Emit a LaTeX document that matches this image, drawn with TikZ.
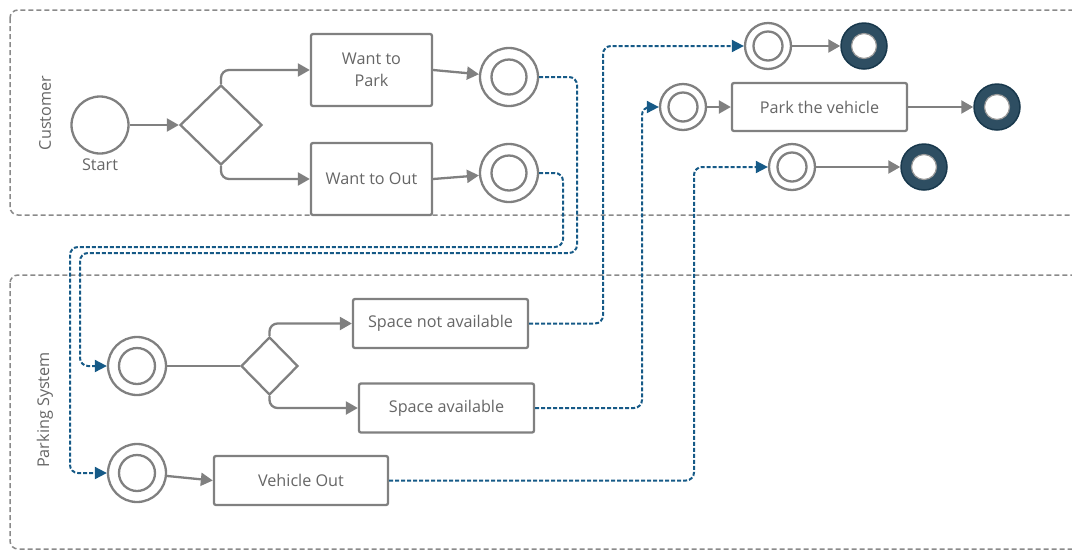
\documentclass[tikz,border=0pt]{standalone}
\usepackage{fontspec}
\setmainfont{Open Sans}
\usetikzlibrary{arrows.meta,shapes.geometric}
\definecolor{flowgray}{HTML}{808080}
\definecolor{lanegray}{HTML}{8A8A8A}
\definecolor{txtgray}{HTML}{666666}
\definecolor{msgblue}{HTML}{165A87}
\definecolor{endfill}{HTML}{2E4E62}
\definecolor{endline}{HTML}{18384C}
\tikzset{
  lane/.style={draw=lanegray, line width=1.5pt, dash pattern=on 5pt off 3pt, rounded corners=8pt},
  lanelabel/.style={rotate=90, text=txtgray, font=\fontsize{16.2}{18}\selectfont},
  task/.style={draw=flowgray, line width=2.3pt, fill=white, rounded corners=2pt,
    text=txtgray, font=\fontsize{16.2}{22}\selectfont, align=center, inner sep=0pt},
  gate/.style={diamond, draw=flowgray, line width=2.3pt, fill=white, inner sep=0pt},
  startevt/.style={circle, draw=flowgray, line width=2.3pt, fill=white, inner sep=0pt, minimum size=57pt},
  midevt/.style={circle, draw=flowgray, line width=2.3pt, fill=white, inner sep=0pt},
  endevt/.style={circle, draw=endline, line width=1.5pt, fill=endfill, inner sep=0pt, minimum size=46pt},
  inner ring/.style={draw=flowgray, line width=2.3pt},
  end core/.style={draw=flowgray!80, line width=1.2pt, fill=white},
  flow/.style={draw=flowgray, line width=2.3pt, rounded corners=8pt,
    -{Triangle[length=12pt,width=13pt]}},
  plainflow/.style={draw=flowgray, line width=2.3pt},
  msg/.style={draw=msgblue, line width=2pt, dash pattern=on 4pt off 2pt, rounded corners=8pt,
    -{Triangle[length=12pt,width=12pt]}, msgblue},
}
\begin{document}
\begin{tikzpicture}[x=1pt,y=-1pt]
\useasboundingbox (0,0) rectangle (1072,550);
\clip (0,0) rectangle (1072,550);

% swimlanes
\draw[lane] (10,10) rectangle (1090,215);
\draw[lane] (10,275) rectangle (1090,549);
\node[lanelabel] (laneC) at (45,113) {Customer};
\node[lanelabel] (laneP) at (45,410) {Parking System};

% customer lane
\node[startevt] (start) at (100,125) {};
\node[text=txtgray, font=\fontsize{16.2}{18}\selectfont] (startlbl) at (100,165) {Start};
\node[gate, minimum width=82pt, minimum height=80pt] (g1) at (221,125) {};
\node[task, minimum width=121pt, minimum height=72pt] (wp) at (371.5,70) {Want to\\Park};
\node[task, minimum width=121pt, minimum height=72pt] (wo) at (371.5,179) {Want to Out};
\node[midevt, minimum size=58pt] (c1) at (509,77) {};
\node[midevt, minimum size=58pt] (c2) at (509,173) {};
\draw[inner ring] (c1.center) circle (17.5);
\draw[inner ring] (c2.center) circle (17.5);

\node[midevt, minimum size=46pt] (a1) at (768,46) {};
\node[midevt, minimum size=46pt] (b1) at (683,107) {};
\node[midevt, minimum size=46pt] (cc1) at (792,167) {};
\draw[inner ring] (a1.center) circle (14.5);
\draw[inner ring] (b1.center) circle (14.5);
\draw[inner ring] (cc1.center) circle (14.5);
\node[task, minimum width=175pt, minimum height=48pt] (pv) at (819.5,107) {Park the vehicle};
\node[endevt] (ae) at (864,46) {};
\node[endevt] (be) at (997,107) {};
\node[endevt] (ce) at (924,167) {};
\draw[end core] (ae.center) circle (12.5);
\draw[end core] (be.center) circle (12.5);
\draw[end core] (ce.center) circle (12.5);

% parking system lane
\node[midevt, minimum size=58pt] (p1) at (137,366) {};
\node[midevt, minimum size=58pt] (p2) at (137,473) {};
\draw[inner ring] (p1.center) circle (18);
\draw[inner ring] (p2.center) circle (18);
\node[gate, minimum width=57pt, minimum height=58pt] (g2) at (269.5,366) {};
\node[task, minimum width=175pt, minimum height=49pt] (sna) at (440.5,323.5) {Space not available};
\node[task, minimum width=175pt, minimum height=49pt] (sa) at (446.5,408) {Space available};
\node[task, minimum width=174pt, minimum height=49pt] (vo) at (301,480.5) {Vehicle Out};

% sequence flows
\draw[flow] (start) -- (g1.west);
\draw[flow] (g1.north) |- (wp.west);
\draw[flow] (g1.south) |- (wo.west);
\draw[flow] (wp.east) -- (c1);
\draw[flow] (wo.east) -- (c2);
\draw[flow] (a1) -- (ae);
\draw[flow] (b1) -- (pv.west);
\draw[flow] (pv.east) -- (be);
\draw[flow] (cc1) -- (ce);
\draw[plainflow] (p1) -- (g2.west);
\draw[flow] (g2.north) |- (sna.west);
\draw[flow] (g2.south) |- (sa.west);
\draw[flow] (p2) -- (vo.west);

% message flows
\draw[msg] (c1.east) -- (577,77) |- (80,253) |- (p1.west);
\draw[msg] (c2.east) -- (563,173) |- (70,247) |- (p2.west);
\draw[msg] (sna.east) -| (603,46) -- (a1.west);
\draw[msg] (sa.east) -| (642,107) -- (b1.west);
\draw[msg] (vo.east) -| (694,167) -- (cc1.west);
\end{tikzpicture}
\end{document}
